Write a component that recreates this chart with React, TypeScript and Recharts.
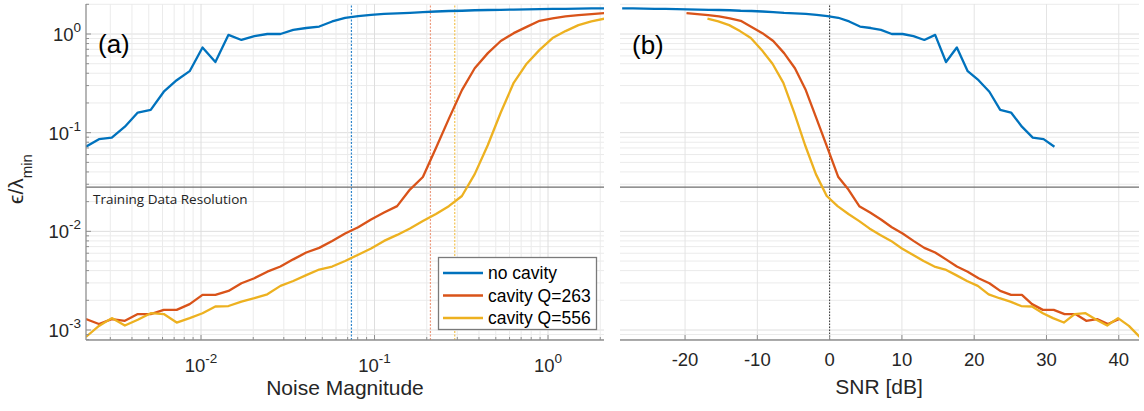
import React from "react";
import { LineChart, Line, XAxis, YAxis, ReferenceLine } from "recharts";

// panel (a): error vs. noise magnitude (log-spaced noise levels)
const noiseMagnitude = [
  0.00217, 0.00258, 0.00306, 0.00364, 0.00432, 0.00513, 0.0061, 0.00724, 0.0086, 0.0102,
  0.0121, 0.0144, 0.0171, 0.0203, 0.0241, 0.0287, 0.034, 0.0404, 0.048, 0.057,
  0.0677, 0.0805, 0.0955, 0.1135, 0.135, 0.16, 0.19, 0.226, 0.268, 0.319,
  0.378, 0.45, 0.534, 0.634, 0.753, 0.894, 1.062, 1.261, 1.497, 1.778, 2.11,
];

// panel (b): the same runs expressed as SNR [dB]
const snrNoCavity = [
  31.1, 29.6, 28.1, 26.6, 25.1, 23.6, 22.1, 20.6, 19.1, 17.6,
  16.1, 14.6, 13.1, 11.6, 10.1, 8.6, 7.1, 5.7, 4.2, 2.7,
  1.2, -0.3, -1.8, -3.3, -4.8, -6.3, -7.8, -9.3, -10.8, -12.3,
  -13.8, -15.3, -16.7, -18.2, -19.7, -21.2, -22.7, -24.2, -25.7, -27.2, -28.7,
];
const snrQ263 = [
  40.0, 38.5, 37.0, 35.5, 34.0, 32.5, 31.0, 29.5, 28.0, 26.6,
  25.1, 23.6, 22.1, 20.6, 19.1, 17.6, 16.1, 14.6, 13.1, 11.6,
  10.1, 8.6, 7.1, 5.6, 4.1, 2.6, 1.2, -0.3, -1.8, -3.3,
  -4.8, -6.3, -7.8, -9.3, -10.8, -12.3, -13.8, -15.3, -16.8, -18.3, -19.8,
];
const snrQ556 = [
  42.9, 41.4, 39.9, 38.4, 36.9, 35.4, 33.9, 32.4, 30.9, 29.5,
  28.0, 26.5, 25.0, 23.5, 22.0, 20.5, 19.0, 17.5, 16.0, 14.5,
  13.0, 11.5, 10.0, 8.5, 7.0, 5.5, 4.1, 2.6, 1.1, -0.4,
  -1.9, -3.4, -4.9, -6.4, -7.9, -9.4, -10.9, -12.4, -13.9, -15.4, -16.9,
];

// eps / lambda_min
const errNoCavity = [
  0.072, 0.086, 0.089, 0.115, 0.16, 0.17, 0.26, 0.34, 0.42, 0.73,
  0.52, 0.98, 0.87, 0.95, 1.0, 1.0, 1.1, 1.15, 1.19, 1.34,
  1.46, 1.52, 1.56, 1.6, 1.62, 1.64, 1.67, 1.69, 1.71, 1.72,
  1.74, 1.75, 1.76, 1.77, 1.78, 1.79, 1.8, 1.8, 1.81, 1.82, 1.82,
];
const errQ263 = [
  0.00129, 0.00115, 0.00129, 0.00124, 0.00145, 0.00145, 0.0016, 0.0016, 0.00183, 0.00227,
  0.00227, 0.00249, 0.00298, 0.00335, 0.0039, 0.0044, 0.0052, 0.0061, 0.0068, 0.008,
  0.0095, 0.011, 0.0132, 0.0155, 0.018, 0.0265, 0.0355, 0.07, 0.138, 0.27,
  0.45, 0.64, 0.85, 1.02, 1.18, 1.36, 1.44, 1.51, 1.55, 1.59, 1.63,
];
const errQ556 = [
  0.00085, 0.0011, 0.00132, 0.00111, 0.00127, 0.00148, 0.00145, 0.00119, 0.00132, 0.00148,
  0.00173, 0.00175, 0.00194, 0.0021, 0.0023, 0.0028, 0.00314, 0.0036, 0.0041, 0.0044,
  0.005, 0.0058, 0.0067, 0.008, 0.0092, 0.0107, 0.0127, 0.015, 0.018, 0.0228,
  0.038, 0.075, 0.16, 0.32, 0.5, 0.69, 0.91, 1.07, 1.23, 1.34, 1.43,
];

const errTicks = [
  0.0008, 0.0009, 0.001, 0.002, 0.003, 0.004, 0.005, 0.006, 0.007, 0.008, 0.009,
  0.01, 0.02, 0.03, 0.04, 0.05, 0.06, 0.07, 0.08, 0.09,
  0.1, 0.2, 0.3, 0.4, 0.5, 0.6, 0.7, 0.8, 0.9, 1, 2,
];
const noiseTicks = [
  0.003, 0.004, 0.005, 0.006, 0.007, 0.008, 0.009,
  0.01, 0.02, 0.03, 0.04, 0.05, 0.06, 0.07, 0.08, 0.09,
  0.1, 0.2, 0.3, 0.4, 0.5, 0.6, 0.7, 0.8, 0.9, 1, 2,
];
const snrTicks = [-20, -10, 0, 10, 20, 30, 40];

const trainingResolution = 0.028;
const noiseCutoffs = [0.0736, 0.21, 0.29];

const seriesNames = ["no cavity", "cavity Q=263", "cavity Q=556"];
const seriesColors = ["#0072BD", "#D95319", "#EDB120"];
const cutoffColors = ["#2f86cc", "#ec9a7e", "#f3c352"];

const FONT = "'Liberation Sans', Arial, sans-serif";
const AXIS = "#8f8f8f";
const TXT = "#262626";

const errDomain = [0.000792, 2.014];
const noiseDomain = [0.002173, 2.102];
const snrDomain = [-29, 42.8];

const toPoints = (xs: number[], ys: number[]) => xs.map((x, i) => ({ x, y: ys[i] }));
const panelA = [
  toPoints(noiseMagnitude, errNoCavity),
  toPoints(noiseMagnitude, errQ263),
  toPoints(noiseMagnitude, errQ556),
];
const panelB = [
  toPoints(snrNoCavity, errNoCavity),
  toPoints(snrQ263, errQ263),
  toPoints(snrQ556, errQ556),
];

const isDecade = (v: number) => {
  const l = Math.log10(v);
  return Math.abs(l - Math.round(l)) < 1e-9;
};

function Pow10({ x, y, v, anchor }: { x: number; y: number; v: number; anchor: "start" | "middle" | "end" }) {
  return (
    <text x={x} y={y} textAnchor={anchor} fontFamily={FONT} fontSize={18.5} fill={TXT}>
      10
      <tspan dy={-9} fontSize={13.5}>
        {String(Math.round(Math.log10(v)))}
      </tspan>
    </text>
  );
}

// side = which edge of the box the tick sits on; ticks point inwards
function makeTick(side: "left" | "right" | "top" | "bottom", kind: "log" | "lin", labels: boolean) {
  return (p: any) => {
    const { x, y, payload } = p;
    const v = payload.value as number;
    const major = kind === "lin" || isDecade(v);
    const len = major ? 5 : 3;
    let x2 = x, y2 = y;
    if (side === "left") x2 = x + len;
    if (side === "right") x2 = x - len;
    if (side === "top") y2 = y + len;
    if (side === "bottom") y2 = y - len;
    let label = null;
    if (labels && major) {
      if (kind === "lin") {
        label = (
          <text x={x} y={y + 26} textAnchor="middle" fontFamily={FONT} fontSize={18.5} fill={TXT}>
            {v}
          </text>
        );
      } else if (side === "left") {
        label = <Pow10 x={x - 5} y={y + 7} v={v} anchor="end" />;
      } else {
        label = <Pow10 x={x} y={y + 32} v={v} anchor="middle" />;
      }
    }
    return (
      <g>
        <line x1={x} y1={y} x2={x2} y2={y2} stroke={AXIS} strokeWidth={1} />
        {label}
      </g>
    );
  };
}

function gridY() {
  return errTicks.map((v) => (
    <ReferenceLine key={"gy" + v} y={v} stroke={isDecade(v) ? "#dedede" : "#ebebeb"} strokeWidth={1} zIndex={-50} />
  ));
}

function seriesLines(data: { x: number; y: number }[][]) {
  return data.map((d, i) => (
    <Line
      key={seriesNames[i]}
      data={d}
      dataKey="y"
      name={seriesNames[i]}
      type="linear"
      stroke={seriesColors[i]}
      strokeWidth={2.3}
      strokeLinejoin="round"
      dot={false}
      activeDot={false}
      isAnimationActive={false}
    />
  ));
}

function NoisePanel() {
  return (
    <LineChart width={610} height={411} margin={{ top: 4, right: 6, bottom: 0, left: 0 }}>
      {gridY()}
      {noiseTicks.map((v) => (
        <ReferenceLine key={"gx" + v} x={v} stroke={isDecade(v) ? "#dedede" : "#ebebeb"} strokeWidth={1} zIndex={-50} />
      ))}
      <XAxis
        type="number"
        dataKey="x"
        scale="log"
        domain={noiseDomain}
        allowDataOverflow
        ticks={noiseTicks}
        interval={0}
        height={71}
        tickSize={0}
        tickMargin={0}
        tick={makeTick("bottom", "log", true)}
        axisLine={{ stroke: AXIS, strokeWidth: 1.3 }}
      />
      <XAxis
        xAxisId="top"
        orientation="top"
        type="number"
        dataKey="x"
        scale="log"
        domain={noiseDomain}
        allowDataOverflow
        ticks={noiseTicks}
        interval={0}
        height={0}
        tickSize={0}
        tickMargin={0}
        tick={makeTick("top", "log", false)}
        axisLine={{ stroke: AXIS, strokeWidth: 1.3 }}
      />
      <YAxis
        type="number"
        scale="log"
        domain={errDomain}
        allowDataOverflow
        ticks={errTicks}
        interval={0}
        width={86}
        tickSize={0}
        tickMargin={0}
        tick={makeTick("left", "log", true)}
        axisLine={{ stroke: AXIS, strokeWidth: 1.3 }}
      />
      <YAxis
        yAxisId="right"
        orientation="right"
        type="number"
        scale="log"
        domain={errDomain}
        allowDataOverflow
        ticks={errTicks}
        interval={0}
        width={0}
        tickSize={0}
        tickMargin={0}
        tick={makeTick("right", "log", false)}
        axisLine={{ stroke: AXIS, strokeWidth: 1.3 }}
      />
      {noiseCutoffs.map((v, i) => (
        <ReferenceLine key={"cut" + v} x={v} stroke={cutoffColors[i]} strokeWidth={1.2} strokeDasharray="2 1.5" />
      ))}
      <ReferenceLine y={trainingResolution} stroke="#6e6e6e" strokeWidth={1.3} />
      {seriesLines(panelA)}
    </LineChart>
  );
}

function SnrPanel() {
  return (
    <LineChart width={534} height={411} margin={{ top: 4, right: 5, bottom: 0, left: 10 }}>
      {gridY()}
      {snrTicks.map((v) => (
        <ReferenceLine key={"gx" + v} x={v} stroke="#e4e4e4" strokeWidth={1} zIndex={-50} />
      ))}
      <XAxis
        type="number"
        dataKey="x"
        domain={snrDomain}
        allowDataOverflow
        ticks={snrTicks}
        interval={0}
        height={71}
        tickSize={0}
        tickMargin={0}
        tick={makeTick("bottom", "lin", true)}
        axisLine={{ stroke: AXIS, strokeWidth: 1.3 }}
      />
      <XAxis
        xAxisId="top"
        orientation="top"
        type="number"
        dataKey="x"
        domain={snrDomain}
        allowDataOverflow
        ticks={snrTicks}
        interval={0}
        height={0}
        tickSize={0}
        tickMargin={0}
        tick={makeTick("top", "lin", false)}
        axisLine={{ stroke: AXIS, strokeWidth: 1.3 }}
      />
      <YAxis
        type="number"
        scale="log"
        domain={errDomain}
        allowDataOverflow
        ticks={errTicks}
        interval={0}
        width={0}
        tickSize={0}
        tickMargin={0}
        tick={makeTick("left", "log", false)}
        axisLine={{ stroke: AXIS, strokeWidth: 1.3 }}
      />
      <YAxis
        yAxisId="right"
        orientation="right"
        type="number"
        scale="log"
        domain={errDomain}
        allowDataOverflow
        ticks={errTicks}
        interval={0}
        width={0}
        tickSize={0}
        tickMargin={0}
        tick={makeTick("right", "log", false)}
        axisLine={{ stroke: AXIS, strokeWidth: 1.3 }}
      />
      <ReferenceLine x={0} stroke="#333" strokeWidth={1} strokeDasharray="1.5 1.5" />
      <ReferenceLine y={trainingResolution} stroke="#6e6e6e" strokeWidth={1.3} />
      {seriesLines(panelB)}
    </LineChart>
  );
}

export default function App() {
  return (
    <div style={{ position: "absolute", left: 0, top: 0, width: 1144, height: 411, background: "#fff" }}>
      <div style={{ position: "absolute", left: 0, top: 0 }}>
        <NoisePanel />
      </div>
      <div style={{ position: "absolute", left: 610, top: 0 }}>
        <SnrPanel />
      </div>
      <svg width={1144} height={411} style={{ position: "absolute", left: 0, top: 0, pointerEvents: "none" }}>
        <text x={98} y={53} fontFamily={FONT} fontSize={26} fill="#000">(a)</text>
        <text x={632} y={54} fontFamily={FONT} fontSize={26} fill="#000">(b)</text>
        <text x={93} y={204} fontFamily="'Open Sans', sans-serif" fontSize={13.5} fill="#222">
          Training Data Resolution
        </text>
        <text x={23} y={179} transform="rotate(-90 23 179)" textAnchor="middle" fontFamily={FONT} fontSize={21} fill={TXT}>
          ϵ/λ<tspan dy={9} fontSize={15}>min</tspan>
        </text>
        <text x={345} y={395} textAnchor="middle" fontFamily={FONT} fontSize={21} fill={TXT}>Noise Magnitude</text>
        <text x={879} y={394} textAnchor="middle" fontFamily={FONT} fontSize={21} fill={TXT}>SNR [dB]</text>
        <g>
          <rect x={438.5} y={257.5} width={158} height={72} fill="#fff" stroke="#7a7a7a" strokeWidth={1.3} />
          {seriesNames.map((n, i) => (
            <g key={n}>
              <line x1={443} x2={483} y1={273 + i * 22.5} y2={273 + i * 22.5} stroke={seriesColors[i]} strokeWidth={2.3} />
              <text x={488} y={279 + i * 22.5} fontFamily={FONT} fontSize={17.5} fill="#000">{n}</text>
            </g>
          ))}
        </g>
      </svg>
    </div>
  );
}
